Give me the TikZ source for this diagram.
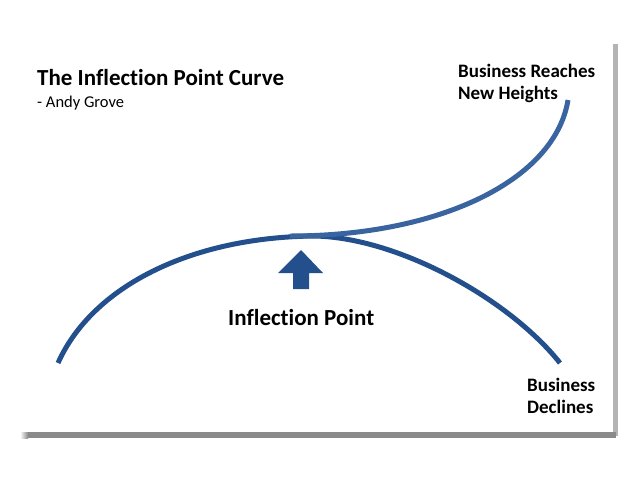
\documentclass[tikz,border=0pt]{standalone}
\usepackage{fontspec}
\setmainfont{Carlito}[Ligatures=NoCommon]
\begin{document}
\begin{tikzpicture}[x=1pt,y=-1pt,
  mylabel/.style={inner sep=0,anchor=base west,align=left,font=\bfseries\fontsize{19}{22}\selectfont},
  mycurve/.style={line width=5pt}]
\definecolor{archblue}{HTML}{234F8D}
\definecolor{riseblue}{HTML}{3A64A0}
\definecolor{shadowlight}{HTML}{B4B4B4}
\definecolor{shadowdark}{HTML}{8A8A8A}
\useasboundingbox (0,0) rectangle (640,480);
% card shadow
\fill[shadowlight] (613,44) rectangle (618,436);
\fill[shadowdark] (28,432) rectangle (616,438);
\shade[left color=white,right color=shadowdark] (20,432) rectangle (28,438);
% texts
\node[inner sep=0,anchor=base west,font=\bfseries\fontsize{23}{26}\selectfont] (title) at (37,85) {The Inflection Point Curve};
\node[inner sep=0,anchor=base west,font=\fontsize{16.5}{18}\selectfont] (author) at (37,107) {- Andy Grove};
\node[mylabel] (heights) at (458,99) {Business Reaches\\New Heights};
\node[mylabel] (declines) at (527,413) {Business\\Declines};
\node[inner sep=0,anchor=base west,font=\bfseries\fontsize{23}{26}\selectfont] (inflection) at (228,325) {Inflection Point};
% curves
\coordinate (start) at (58,363);
\coordinate (peak) at (315,236);
\coordinate (end) at (560,363);
\coordinate (fork) at (290,236);
\coordinate (top) at (568,100);
\draw[mycurve,archblue] (start) .. controls (92,287) and (190,237) .. (peak)
  .. controls (400,238) and (510,300) .. (end);
\draw[mycurve,riseblue] (fork) .. controls (440,236) and (555,180) .. (top);
% arrow
\fill[archblue] (301,250) -- (323,273) -- (309,273) -- (309,289) -- (293,289)
  -- (293,273) -- (278,273) -- cycle;
\end{tikzpicture}
\end{document}
